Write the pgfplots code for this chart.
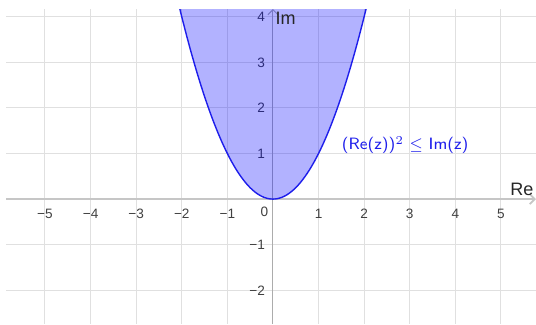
\documentclass[border=0pt]{standalone}
\usepackage{pgfplots}
\pgfplotsset{compat=1.18}
\usepackage{pgfplotstable}
\usepackage{fontspec}
\setmainfont{Liberation Sans}
\usetikzlibrary{arrows.meta}

\definecolor{ggblue}{RGB}{30,30,235}

% boundary curve Im = Re^2
\pgfplotstableread{
x y
-2.1 4.41
-2.0 4.00
-1.9 3.61
-1.8 3.24
-1.7 2.89
-1.6 2.56
-1.5 2.25
-1.4 1.96
-1.3 1.69
-1.2 1.44
-1.1 1.21
-1.0 1.00
-0.9 0.81
-0.8 0.64
-0.7 0.49
-0.6 0.36
-0.5 0.25
-0.4 0.16
-0.3 0.09
-0.2 0.04
-0.1 0.01
0.0 0.00
0.1 0.01
0.2 0.04
0.3 0.09
0.4 0.16
0.5 0.25
0.6 0.36
0.7 0.49
0.8 0.64
0.9 0.81
1.0 1.00
1.1 1.21
1.2 1.44
1.3 1.69
1.4 1.96
1.5 2.25
1.6 2.56
1.7 2.89
1.8 3.24
1.9 3.61
2.0 4.00
2.1 4.41
}\parab

\begin{document}
\begin{tikzpicture}
\begin{axis}[
  scale only axis, width=265pt, height=157.5pt,
  xmin=-5.855, xmax=5.77, ymin=-2.74, ymax=4.17,
  axis lines=middle,
  x axis line style={gray!45, line width=0.9pt, -{Straight Barb[length=2.5pt,width=5pt]}},
  y axis line style={gray!65, line width=0.5pt, -{Straight Barb[length=2.5pt,width=5pt]}},
  xtick={-5,-4,-3,-2,-1,1,2,3,4,5},
  xticklabels={−5,−4,−3,−2,−1,1,2,3,4,5},
  ytick={-2,-1,1,2,3,4},
  yticklabels={−2,−1,1,2,3,4},
  minor x tick num=4, minor y tick num=4,
  major tick length=0pt, minor tick length=0pt,
  grid=both,
  major grid style={gray!24, line width=0.5pt},
  minor grid style={gray!13, line width=0.4pt},
  tick label style={font=\fontsize{6.8}{8}\selectfont, text=black!75},
  xticklabel style={anchor=north, yshift=-1.5pt},
  yticklabel style={anchor=east, xshift=-0.5pt},
  clip=true,
]
\addplot[draw=none, fill=blue, fill opacity=0.3] table {\parab} -- cycle;
\addplot[ggblue, line width=0.7pt, smooth] table {\parab};

\node[anchor=north east, font=\fontsize{6.8}{8}\selectfont, text=black!75, inner sep=1pt]
  at (axis cs:-0.05,-0.12) {0};
\node[anchor=south east, font=\fontsize{9}{10}\selectfont, text=black!85, inner sep=0pt]
  at (axis cs:5.72,0.06) {Re};
\node[anchor=north west, font=\fontsize{9}{10}\selectfont, text=black!85, inner sep=0pt]
  at (axis cs:0.05,4.1) {Im};
\node[font=\sffamily\fontsize{8.2}{10}\selectfont, text=ggblue, inner sep=0pt]
  at (axis cs:2.9,1.18) {(Re(z))$^2$ $\leq$ Im(z)};

\coordinate (bl) at (rel axis cs:0,0);
\coordinate (tr) at (rel axis cs:1,1);
\end{axis}
\pgfresetboundingbox
\path ([xshift=-3pt]bl) rectangle ([yshift=4.5pt]tr);
\end{tikzpicture}
\end{document}
